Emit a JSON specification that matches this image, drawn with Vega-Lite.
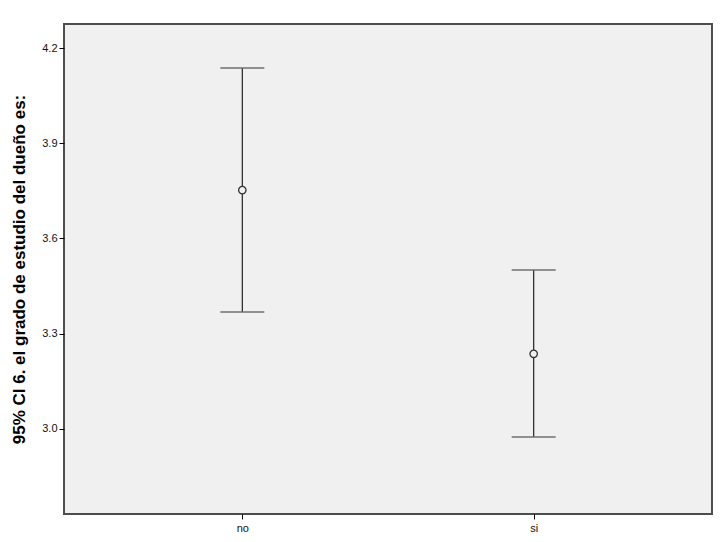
{
  "$schema": "https://vega.github.io/schema/vega-lite/v6.json",
  "width": 648,
  "height": 490,
  "autosize": "none",
  "padding": {"left": 64, "top": 24, "right": 10, "bottom": 28},
  "background": "white",
  "config": {
    "font": "Liberation Sans",
    "view": {"fill": "#f0f0f0", "stroke": "#4d4d4d", "strokeWidth": 2},
    "axis": {
      "domain": false,
      "grid": false,
      "tickColor": "#000000",
      "tickSize": 5,
      "tickWidth": 1,
      "labelFont": "Liberation Sans",
      "labelFontSize": 11,
      "labelColor": "#111111",
      "titleFont": "Liberation Sans"
    }
  },
  "data": {
    "values": [
      {"group": "no", "mean": 3.752, "lower": 3.368, "upper": 4.137},
      {"group": "si", "mean": 3.236, "lower": 2.974, "upper": 3.5}
    ]
  },
  "encoding": {
    "x": {
      "field": "group",
      "type": "nominal",
      "scale": {"type": "point", "padding": 0.612},
      "axis": {"title": null, "labelAngle": 0, "labelPadding": 3}
    }
  },
  "layer": [
    {
      "mark": {"type": "rule", "color": "#222222", "strokeWidth": 1.2},
      "encoding": {
        "y": {
          "field": "lower",
          "type": "quantitative",
          "scale": {"domain": [2.731, 4.2757], "nice": false, "zero": false},
          "axis": {
            "title": "95% CI 6. el grado de estudio del dueño es:",
            "titleFontSize": 17,
            "titleFontWeight": "bold",
            "titleColor": "#000000",
            "titlePadding": 13,
            "values": [3.0, 3.3, 3.6, 3.9, 4.2],
            "format": ".1f",
            "labelPadding": 2
          }
        },
        "y2": {"field": "upper"}
      }
    },
    {
      "mark": {"type": "tick", "color": "#666666", "size": 44, "thickness": 2},
      "encoding": {"y": {"field": "lower", "type": "quantitative"}}
    },
    {
      "mark": {"type": "tick", "color": "#666666", "size": 44, "thickness": 2},
      "encoding": {"y": {"field": "upper", "type": "quantitative"}}
    },
    {
      "mark": {"type": "point", "shape": "circle", "filled": true, "fill": "#f0f0f0", "stroke": "#333333", "strokeWidth": 1.3, "size": 55, "opacity": 1},
      "encoding": {"y": {"field": "mean", "type": "quantitative"}}
    }
  ]
}
